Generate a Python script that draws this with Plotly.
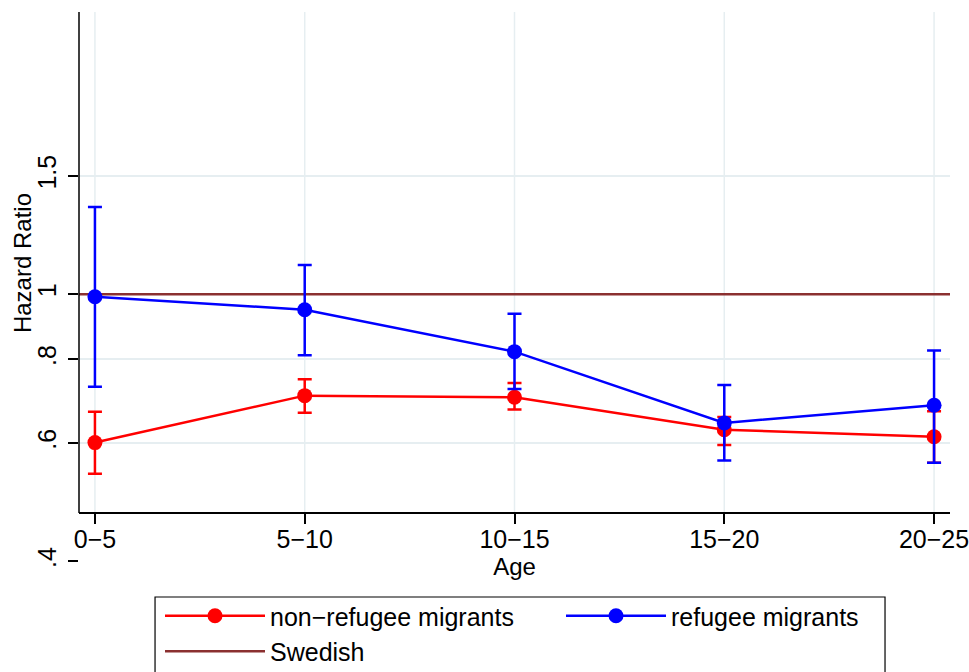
import math
import plotly.graph_objects as go

# ---- data ----
categories = ["0−5", "5−10", "10−15", "15−20", "20−25"]

nonref_hr = [0.601, 0.706, 0.702, 0.628, 0.613]
nonref_lo = [0.540, 0.666, 0.673, 0.596, 0.561]
nonref_hi = [0.668, 0.747, 0.737, 0.656, 0.669]

ref_hr = [0.991, 0.948, 0.821, 0.643, 0.683]
ref_lo = [0.728, 0.811, 0.722, 0.565, 0.561]
ref_hi = [1.348, 1.105, 0.935, 0.732, 0.824]

swedish_hr = 1.0

y_tickvals = [0.4, 0.6, 0.8, 1, 1.5]
y_ticktext = [".4", ".6", ".8", "1", "1.5"]

# ---- styling ----
FONT = "Liberation Sans, Arial, Helvetica, sans-serif"
GRID = "#e6eef1"
RED = "#ff0000"
BLUE = "#0000ff"
MAROON = "#8b3030"
XAXIS_POS = 0.089          # paper fraction where the x axis line sits
X_RANGE = [-0.076, 4.076]  # x axis range (category index units)

xs = list(range(len(categories)))

fig = go.Figure()

# reference line (Swedish) spanning the whole x axis range
fig.add_trace(go.Scatter(
    x=X_RANGE, y=[swedish_hr, swedish_hr], name="Swedish", mode="lines",
    line=dict(color=MAROON, width=2.5), legendrank=3, hoverinfo="skip",
))

def series(name, hr, lo, hi, color, rank):
    return go.Scatter(
        x=xs, y=hr, name=name, mode="lines+markers",
        line=dict(color=color, width=2.5),
        marker=dict(color=color, size=15),
        error_y=dict(type="data", symmetric=False,
                     array=[h - v for h, v in zip(hi, hr)],
                     arrayminus=[v - l for v, l in zip(hr, lo)],
                     color=color, thickness=2.5, width=7),
        legendrank=rank,
    )

fig.add_trace(series("non−refugee migrants", nonref_hr, nonref_lo, nonref_hi, RED, 1))
fig.add_trace(series("refugee migrants", ref_hr, ref_lo, ref_hi, BLUE, 2))

# vertical gridlines from the x axis up
for xv in xs:
    fig.add_shape(type="line", xref="x", x0=xv, x1=xv, yref="paper",
                  y0=XAXIS_POS, y1=1, line=dict(color=GRID, width=1.5), layer="below")

# y axis line (stops at the x axis)
fig.add_shape(type="line", xref="paper", x0=0, x1=0, yref="paper",
              y0=XAXIS_POS, y1=1, line=dict(color="black", width=1.5), layer="above")

# legend frame
fig.add_shape(type="rect", xref="paper", yref="paper",
              x0=0.0873, x1=0.9254, y0=-0.30, y1=-0.0636,
              line=dict(color="black", width=1.2), fillcolor="rgba(0,0,0,0)",
              layer="above")

fig.update_layout(
    width=969, height=672,
    margin=dict(l=79, r=19, t=12, b=110, autoexpand=False),
    paper_bgcolor="white", plot_bgcolor="white",
    font=dict(family=FONT, size=25, color="black"),
    xaxis=dict(
        range=X_RANGE, tickvals=xs, ticktext=categories,
        anchor="free", position=XAXIS_POS,
        showline=True, linecolor="black", linewidth=1.5,
        ticks="outside", ticklen=10, tickwidth=1.5, tickcolor="black",
        showgrid=False, zeroline=False, ticklabeloverflow="allow",
        ticklabelstandoff=-6,
        title=dict(text="Age", font=dict(size=24), standoff=2),
        tickfont=dict(size=25),
    ),
    yaxis=dict(
        type="log", range=[math.log10(0.399), math.log10(2.632)],
        tickvals=y_tickvals, ticktext=y_ticktext, tickangle=-90,
        ticks="outside", ticklen=10, tickwidth=1.5, tickcolor="black",
        showline=False, showgrid=True, gridcolor=GRID, gridwidth=1.5,
        zeroline=False, tickfont=dict(size=25), ticklabelstandoff=2,
    ),
    showlegend=True,
    legend=dict(
        orientation="h", x=0.093, xanchor="left", y=-0.0564, yanchor="top",
        borderwidth=0, bgcolor="rgba(0,0,0,0)",
        font=dict(size=25), itemwidth=100, entrywidth=286, entrywidthmode="pixels",
        traceorder="normal",
    ),
    annotations=[dict(text="Hazard Ratio", xref="paper", yref="paper",
                      x=-0.0654, y=0.5436, textangle=-90, showarrow=False,
                      font=dict(size=24), xanchor="center", yanchor="middle")],
)

fig.write_html(
    "out.html",
    config={"displayModeBar": False},
    post_script=("document.body.style.margin='0';"
                 "document.body.style.overflow='hidden';"
                 "document.documentElement.style.overflow='hidden';"),
)
